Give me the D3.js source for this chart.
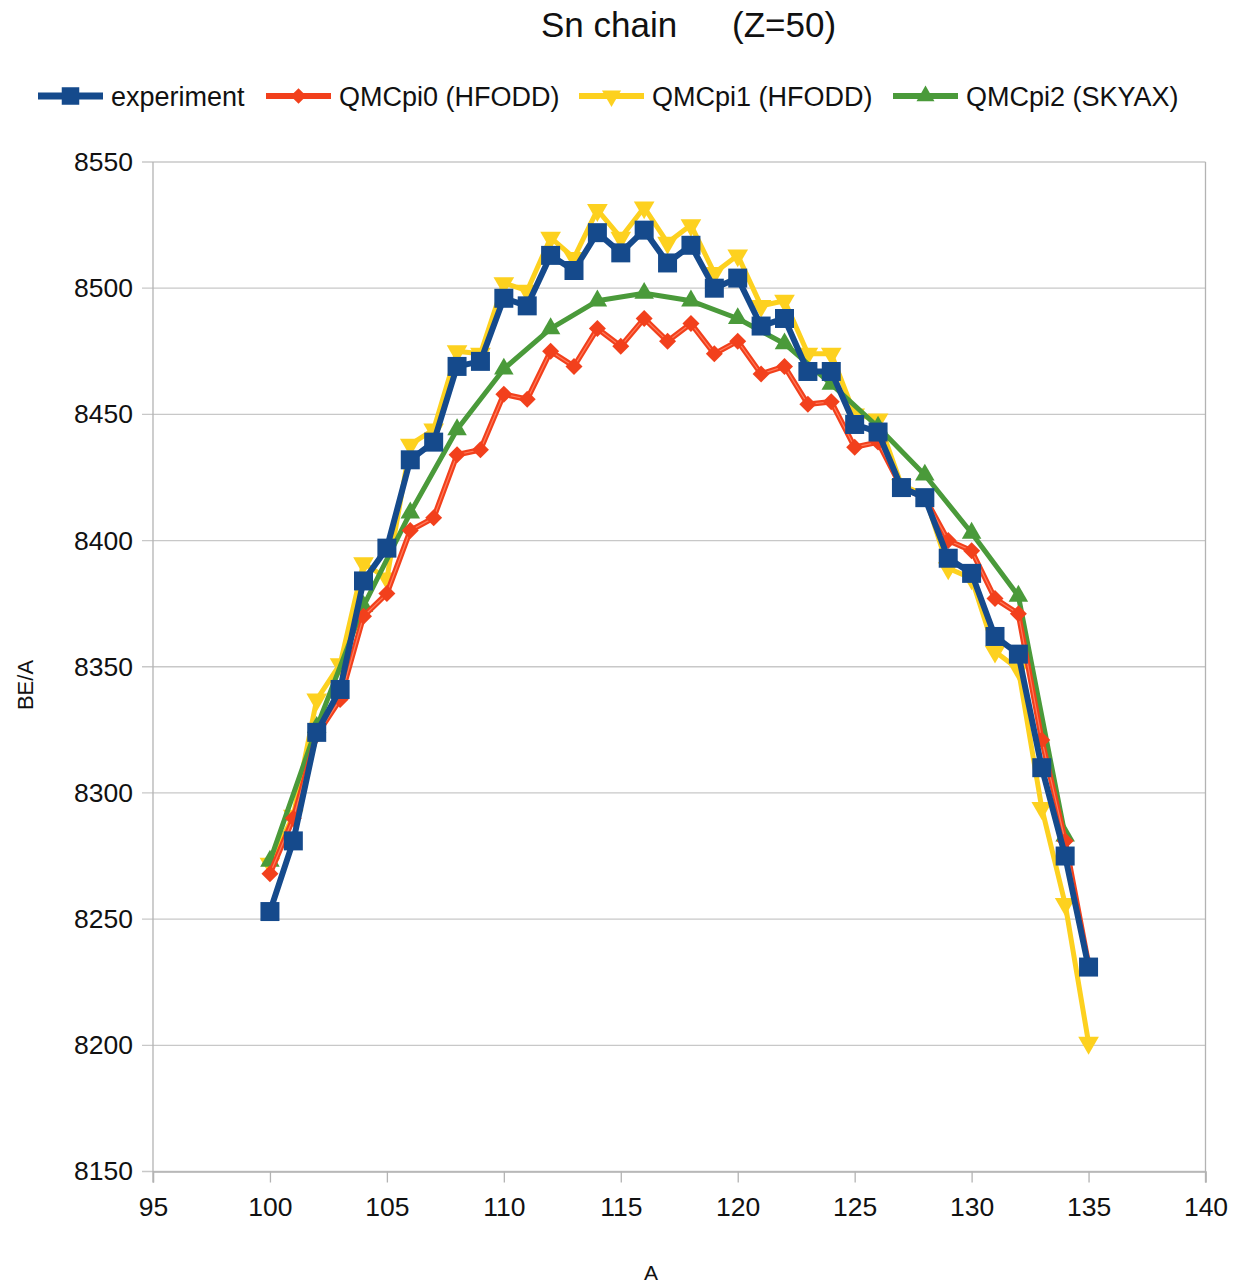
<!DOCTYPE html>
<html>
<head>
<meta charset="utf-8">
<script src="https://cdn.jsdelivr.net/npm/d3@7"></script>
<style>
  html, body { margin: 0; padding: 0; background: #fff; }
  svg { display: block; font-family: "Liberation Sans", Arial, sans-serif; }
</style>
</head>
<body>
<script>
// Mass numbers of the Sn isotopes (Z = 50)
const massNumbers = d3.range(100, 136);

// Binding energy per nucleon (keV)
const experiment = [8253, 8281, 8324, 8341, 8384, 8397, 8432, 8439, 8469, 8471,
  8496, 8493, 8513, 8507, 8522, 8514, 8523, 8510, 8517, 8500,
  8504, 8485, 8488, 8467, 8467, 8446, 8443, 8421, 8417, 8393,
  8387, 8362, 8355, 8310, 8275, 8231];

const qmcpi0 = [8268, 8290, 8323, 8337, 8370, 8379, 8404, 8409, 8434, 8436,
  8458, 8456, 8475, 8469, 8484, 8477, 8488, 8479, 8486, 8474,
  8479, 8466, 8469, 8454, 8455, 8437, 8439, 8421, 8417, 8400,
  8396, 8377, 8371, 8321, 8281, 8232];

const qmcpi1 = [8272, 8291, 8337, 8351, 8391, 8385, 8438, 8444, 8475, 8474,
  8502, 8499, 8520, 8512, 8531, 8520, 8532, 8518, 8525, 8506,
  8513, 8493, 8495, 8474, 8474, 8450, 8448, 8422, 8418, 8389,
  8385, 8356, 8349, 8294, 8256, 8201];

// QMCpi2 (SKYAX) is computed for even A only
const massNumbersEven = d3.range(100, 135, 2);
const qmcpi2 = [8273, 8326, 8374, 8411, 8444, 8468, 8484, 8495, 8498, 8495,
  8488, 8478, 8462, 8445, 8426, 8403, 8378, 8283];

const seriesNames = ["experiment", "QMCpi0 (HFODD)", "QMCpi1 (HFODD)", "QMCpi2 (SKYAX)"];
const xTicks = d3.range(95, 141, 5);
const yTicks = d3.range(8150, 8551, 50);

const W = 1234, H = 1286;
const plot = { left: 153, right: 1205.5, top: 162, bottom: 1171.5 };

const x = d3.scaleLinear().domain([95, 140]).range([plot.left, plot.right]);
const y = d3.scaleLinear().domain([8150, 8550]).range([plot.bottom, plot.top]);

const svg = d3.select("body").append("svg").attr("width", W).attr("height", H);

const gridColor = "#c8c8c8";
const axisColor = "#b3b3b3";

// Horizontal grid lines (extend slightly left as tick marks)
svg.append("g").selectAll("line").data(yTicks).join("line")
  .attr("x1", plot.left - 11).attr("x2", plot.right)
  .attr("y1", d => y(d)).attr("y2", d => y(d))
  .attr("stroke", gridColor).attr("stroke-width", 1.3);

// Plot frame: left and right verticals
svg.append("line").attr("x1", plot.left).attr("x2", plot.left)
  .attr("y1", plot.top).attr("y2", plot.bottom + 11)
  .attr("stroke", axisColor).attr("stroke-width", 1.3);
svg.append("line").attr("x1", plot.right).attr("x2", plot.right)
  .attr("y1", plot.top).attr("y2", plot.bottom + 11)
  .attr("stroke", axisColor).attr("stroke-width", 1.3);

// X axis ticks and labels
const xAxis = svg.append("g")
  .attr("transform", `translate(0,${plot.bottom})`)
  .call(d3.axisBottom(x).tickValues(xTicks).tickSize(11).tickPadding(15).tickFormat(d3.format("d")));
xAxis.select(".domain").attr("stroke", axisColor).attr("stroke-width", 1.3);
xAxis.selectAll(".tick line").attr("stroke", axisColor).attr("stroke-width", 1.3);
xAxis.selectAll(".tick text")
  .attr("font-size", 26.5).attr("fill", "#111")
  .attr("font-family", "Liberation Sans, Arial, sans-serif");

// Y axis labels (grid lines serve as its ticks)
const yAxis = svg.append("g")
  .attr("transform", `translate(${plot.left},0)`)
  .call(d3.axisLeft(y).tickValues(yTicks).tickSize(0).tickPadding(20).tickFormat(d3.format("d")));
yAxis.select(".domain").remove();
yAxis.selectAll(".tick text")
  .attr("font-size", 26.5).attr("fill", "#111")
  .attr("font-family", "Liberation Sans, Arial, sans-serif");

// Axis titles
svg.append("text").attr("x", 651).attr("y", 1280).attr("text-anchor", "middle")
  .attr("font-size", 21).attr("fill", "#111").text("A");
svg.append("text").attr("transform", "translate(33,685) rotate(-90)")
  .attr("text-anchor", "middle").attr("font-size", 22).attr("fill", "#111").text("BE/A");

// Title
const title = svg.append("text").attr("y", 37).attr("font-size", 35).attr("fill", "#111");
title.append("tspan").attr("x", 541).text("Sn chain");
title.append("tspan").attr("x", 732).text("(Z=50)");

// Series styles
const colors = ["#154a8c", "#f2401c", "#fdd11f", "#4a9a3a"];
const symbolFor = {
  square: { type: d3.symbolSquare, size: 19 * 19, rot: 0 },
  diamond: { type: d3.symbolSquare, size: 12 * 12, rot: 45 },
  down: { type: d3.symbolTriangle, size: 185, rot: 180 },
  up: { type: d3.symbolTriangle, size: 165, rot: 0 }
};

const series = [
  { name: seriesNames[2], xs: massNumbers, ys: qmcpi1, color: colors[2], width: 5, sym: "down" },
  { name: seriesNames[3], xs: massNumbersEven, ys: qmcpi2, color: colors[3], width: 5, sym: "up" },
  { name: seriesNames[1], xs: massNumbers, ys: qmcpi0, color: colors[1], width: 5.5, sym: "diamond" },
  { name: seriesNames[0], xs: massNumbers, ys: experiment, color: colors[0], width: 6, sym: "square" }
];

const line = d3.line().x(d => x(d[0])).y(d => y(d[1]));

series.forEach(s => {
  const pts = s.xs.map((a, i) => [a, s.ys[i]]);
  const g = svg.append("g");
  g.append("path").datum(pts).attr("d", line)
    .attr("fill", "none").attr("stroke", s.color)
    .attr("stroke-width", s.width).attr("stroke-linejoin", "round");
  if (s.sym === "diamond") {
    // lighter core stripe on the red line
    g.append("path").datum(pts).attr("d", line)
      .attr("fill", "none").attr("stroke", "#ff7b5c")
      .attr("stroke-width", 1.2).attr("stroke-linejoin", "round");
  }
  const sy = symbolFor[s.sym];
  g.selectAll("path.mark").data(pts).join("path").attr("class", "mark")
    .attr("d", d3.symbol().type(sy.type).size(sy.size))
    .attr("transform", d => `translate(${x(d[0])},${y(d[1])}) rotate(${sy.rot})`)
    .attr("fill", s.color);
});

// Legend
const legendItems = [
  { name: seriesNames[0], color: colors[0], sym: "square", x0: 38, w: 6 },
  { name: seriesNames[1], color: colors[1], sym: "diamond", x0: 266, w: 5 },
  { name: seriesNames[2], color: colors[2], sym: "down", x0: 579, w: 5 },
  { name: seriesNames[3], color: colors[3], sym: "up", x0: 893, w: 5 }
];
const ly = 96;
const lg = svg.append("g");
legendItems.forEach(it => {
  lg.append("line").attr("x1", it.x0).attr("x2", it.x0 + 65)
    .attr("y1", ly).attr("y2", ly).attr("stroke", it.color).attr("stroke-width", it.w + 1);
  const sy = symbolFor[it.sym];
  lg.append("path").attr("d", d3.symbol().type(sy.type).size(sy.size * 0.85))
    .attr("transform", `translate(${it.x0 + 32.5},${ly}) rotate(${sy.rot})`)
    .attr("fill", it.color);
  lg.append("text").attr("x", it.x0 + 73).attr("y", ly + 9.5)
    .attr("font-size", 27).attr("fill", "#111").text(it.name);
});
</script>
</body>
</html>
